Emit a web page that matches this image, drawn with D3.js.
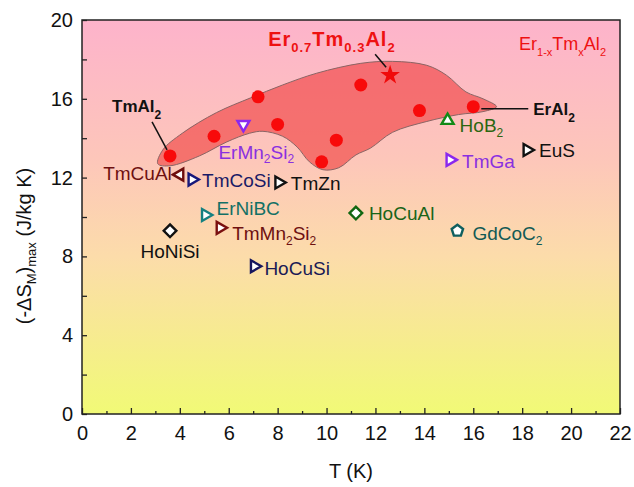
<!DOCTYPE html>
<html>
<head>
<meta charset="utf-8">
<script src="https://cdn.jsdelivr.net/npm/d3@7"></script>
<style>
  body { margin: 0; background: #fff; }
  svg text { font-family: Arial, "Liberation Sans", sans-serif; }
</style>
</head>
<body>
<svg width="634" height="487"></svg>
<script>
// Er(1-x)Tm(x)Al2 series (red dots)
var erTmT = [3.6, 5.4, 7.2, 8.0, 9.8, 10.4, 11.4, 13.8, 16.0];
var erTmS = [13.1, 14.1, 16.1, 14.7, 12.8, 13.9, 16.7, 15.4, 15.6];
// Er0.7Tm0.3Al2 (star)
var starT = [12.6];
var starS = [17.2];

// other compounds
var compounds = ["TmCuAl", "TmCoSi", "TmZn", "ErMn2Si2", "ErNiBC", "TmMn2Si2", "HoNiSi",
  "HoCuSi", "HoCuAl", "GdCoC2", "HoB2", "TmGa", "EuS"];
var compT = [4.0, 4.5, 8.05, 6.6, 5.05, 5.65, 3.6, 7.05, 11.2, 15.35, 14.95, 15.05, 18.2];
var compS = [12.15, 11.9, 11.75, 14.7, 10.1, 9.45, 9.3, 7.5, 10.2, 9.3, 14.9, 12.9, 13.4];

// outline of the shaded Er1-xTmxAl2 region (T, S)
var blobT = [3.1, 3.3, 4.1, 5.5, 6.9, 8.2, 9.6, 11.4, 12.7, 14.1, 14.9, 15.7, 16.4, 16.95,
  16.4, 15.4, 14.1, 12.7, 11.8, 11.2, 10.5, 9.85, 9.3, 8.8, 8.2, 7.4, 6.85, 5.9, 4.8, 3.6];
var blobS = [12.7, 13.4, 14.25, 15.3, 16.05, 16.7, 17.3, 17.8, 17.9, 17.7, 17.2, 16.35, 16.0, 15.6,
  15.35, 15.2, 14.85, 14.3, 13.5, 13.15, 12.5, 12.4, 12.8, 13.55, 14.1, 14.35, 14.25, 13.8, 13.1, 12.6];

var xTicks = [0, 2, 4, 6, 8, 10, 12, 14, 16, 18, 20, 22];
var yTicks = [0, 4, 8, 12, 16, 20];

var svg = d3.select("svg"),
  margin = {top: 20, right: 14, bottom: 73, left: 82},
  width = 634 - margin.left - margin.right,
  height = 487 - margin.top - margin.bottom;

var g = svg.append("g").attr("transform", "translate(" + margin.left + "," + margin.top + ")");

var x = d3.scaleLinear().domain([0, 22]).range([0, width]);
var y = d3.scaleLinear().domain([0, 20]).range([height, 0]);

// background gradient
var grad = svg.append("defs").append("linearGradient")
  .attr("id", "bg").attr("x1", 0).attr("y1", 0).attr("x2", 0).attr("y2", 1);
grad.append("stop").attr("offset", "0%").attr("stop-color", "#fdb3cb");
grad.append("stop").attr("offset", "35%").attr("stop-color", "#fdc6ba");
grad.append("stop").attr("offset", "60%").attr("stop-color", "#fcdcaa");
grad.append("stop").attr("offset", "100%").attr("stop-color", "#f1fa76");

g.append("rect").attr("width", width).attr("height", height).attr("fill", "url(#bg)");

// shaded region
var blob = blobT.map(function(t, i) { return [x(t), y(blobS[i])]; });
g.append("path")
  .attr("d", d3.line().curve(d3.curveCatmullRomClosed.alpha(0.5))(blob))
  .attr("fill", "#ef2e2e")
  .attr("fill-opacity", 0.55)
  .attr("stroke", "#8a6464")
  .attr("stroke-width", 1);

// axes
function styleAxis(sel) {
  sel.select(".domain").remove();
  sel.selectAll("line").attr("stroke", "#222").attr("stroke-width", 1.3);
  sel.selectAll("text").attr("font-size", 20).attr("fill", "#111");
}
g.append("g").attr("transform", "translate(0," + height + ")")
  .call(d3.axisBottom(x).tickValues(xTicks).tickSize(-6).tickPadding(12).tickFormat(d3.format("d")))
  .call(styleAxis);
g.append("g").attr("transform", "translate(0," + height + ")")
  .call(d3.axisBottom(x).tickValues(d3.range(1, 22, 2)).tickSize(-3).tickFormat(""))
  .call(styleAxis);
g.append("g")
  .call(d3.axisLeft(y).tickValues(yTicks).tickSize(-5).tickPadding(9).tickFormat(d3.format("d")))
  .call(styleAxis);
g.append("g")
  .call(d3.axisLeft(y).tickValues([2, 6, 10, 14, 18]).tickSize(-5).tickFormat(""))
  .call(styleAxis);

g.append("rect").attr("width", width).attr("height", height)
  .attr("fill", "none").attr("stroke", "#222").attr("stroke-width", 1.5);

// axis titles
svg.append("text")
  .attr("x", margin.left + width / 2).attr("y", 478)
  .attr("text-anchor", "middle").attr("font-size", 20).attr("fill", "#111")
  .text("T (K)");

var yl = svg.append("text")
  .attr("transform", "translate(31," + (margin.top + 226) + ") rotate(-90)")
  .attr("text-anchor", "middle").attr("font-size", 20).attr("fill", "#111");
yl.append("tspan").text("(-ΔS");
yl.append("tspan").attr("font-size", 13).attr("dy", 5).text("M");
yl.append("tspan").attr("dy", -5).text(")");
yl.append("tspan").attr("font-size", 13).attr("dy", 5).text("max");
yl.append("tspan").attr("dy", -5).text(" (J/kg K)");

// marker styles and label placement
var pentagon = {
  draw: function(ctx, size) {
    var r = Math.sqrt(size / 2.378);
    for (var i = 0; i < 5; i++) {
      var a = -Math.PI / 2 + i * 2 * Math.PI / 5;
      if (i === 0) ctx.moveTo(r * Math.cos(a), r * Math.sin(a));
      else ctx.lineTo(r * Math.cos(a), r * Math.sin(a));
    }
    ctx.closePath();
  }
};
var tri = d3.symbolTriangle, dia = d3.symbolSquare;
var style = {
  TmCuAl:   {sym: tri, rot: -90, color: "#6e0d0d", text: "#6e1010", dx: -8,  dy: 5,   anchor: "end"},
  TmCoSi:   {sym: tri, rot: 90,  color: "#18187a", text: "#1a1a66", dx: 10,  dy: 7},
  TmZn:     {sym: tri, rot: 90,  color: "#111",    text: "#111",    dx: 12,  dy: 7},
  ErMn2Si2: {sym: tri, rot: 180, color: "#8a28ee", text: "#8a30e0", dx: -25, dy: 35, sub: ["ErMn", "2", "Si", "2"], shift: 4},
  ErNiBC:   {sym: tri, rot: 90,  color: "#148080", text: "#137065", dx: 11,  dy: 0},
  TmMn2Si2: {sym: tri, rot: 90,  color: "#7a1010", text: "#6e1010", dx: 12,  dy: 12, sub: ["TmMn", "2", "Si", "2"]},
  HoNiSi:   {sym: dia, rot: 45,  color: "#111",    text: "#111",    dx: 0,   dy: 27, anchor: "middle"},
  HoCuSi:   {sym: tri, rot: 90,  color: "#16165e", text: "#1a1a55", dx: 10,  dy: 9},
  HoCuAl:   {sym: dia, rot: 45,  color: "#116611", text: "#1a6418", dx: 13,  dy: 7},
  GdCoC2:   {sym: pentagon, rot: 0, color: "#0f5f5f", text: "#125a55", dx: 15, dy: 9, sub: ["GdCoC", "2"]},
  HoB2:     {sym: tri, rot: 0,   color: "#128a18", text: "#2c6610", dx: 12,  dy: 12, sub: ["HoB", "2"]},
  TmGa:     {sym: tri, rot: 90,  color: "#8a28ee", text: "#8a30e0", dx: 12,  dy: 8},
  EuS:      {sym: tri, rot: 90,  color: "#111",    text: "#111",    dx: 12,  dy: 7}
};

function addLabel(sel, parts, big, small, shift) {
  parts.forEach(function(p, i) {
    var isSub = i % 2 === 1;
    sel.append("tspan")
      .attr("font-size", isSub ? small : big)
      .attr("dy", isSub ? shift : (i > 0 ? -shift : 0))
      .text(p);
  });
}

compounds.forEach(function(name, i) {
  var s = style[name];
  var px = x(compT[i]), py = y(compS[i]);
  var size = s.sym === dia ? 80 : (s.sym === pentagon ? 85 : 62);
  g.append("path")
    .attr("d", d3.symbol().type(s.sym).size(size)())
    .attr("transform", "translate(" + px + "," + py + ") rotate(" + s.rot + ")")
    .attr("fill", "#fff")
    .attr("stroke", s.color)
    .attr("stroke-width", 2.4)
    .attr("stroke-linejoin", "miter");
  var t = g.append("text")
    .attr("x", px + s.dx).attr("y", py + s.dy)
    .attr("text-anchor", s.anchor || "start")
    .attr("fill", s.text);
  if (s.sub) addLabel(t, s.sub, 19, 12, s.shift || 5);
  else t.attr("font-size", 19).text(name);
});

// red dots
g.selectAll("circle.er")
  .data(erTmT)
  .enter().append("circle")
  .attr("class", "er")
  .attr("cx", function(d) { return x(d); })
  .attr("cy", function(d, i) { return y(erTmS[i]); })
  .attr("r", 6.5)
  .attr("fill", "#f80a0a");

g.selectAll("path.star")
  .data(starT)
  .enter().append("path")
  .attr("class", "star")
  .attr("d", d3.symbol().type(d3.symbolStar).size(120)())
  .attr("transform", function(d, i) { return "translate(" + x(d) + "," + y(starS[i]) + ")"; })
  .attr("fill", "#f00a0a");

// annotations
var a1x = x(erTmT[0]), a1y = y(erTmS[0]);
g.append("line").attr("x1", a1x - 18).attr("y1", a1y - 34).attr("x2", a1x - 3).attr("y2", a1y - 6)
  .attr("stroke", "#111").attr("stroke-width", 1.5);
var t1 = g.append("text").attr("x", a1x - 58).attr("y", a1y - 44)
  .attr("font-weight", "bold").attr("fill", "#111");
addLabel(t1, ["TmAl", "2"], 17, 12, 7);

var a2x = x(starT[0]), a2y = y(starS[0]);
g.append("line").attr("x1", a2x - 15).attr("y1", a2y - 21).attr("x2", a2x - 4).attr("y2", a2y - 8)
  .attr("stroke", "#111").attr("stroke-width", 1.5);
var t2 = g.append("text").attr("x", a2x - 122).attr("y", a2y - 29)
  .attr("font-weight", "bold").attr("fill", "#ee1111").attr("letter-spacing", 1);
addLabel(t2, ["Er", "0.7", "Tm", "0.3", "Al", "2"], 20, 13, 6);

var a3x = x(erTmT[8]), a3y = y(erTmS[8]);
g.append("line").attr("x1", a3x + 8).attr("y1", a3y + 2).attr("x2", a3x + 55).attr("y2", a3y + 2)
  .attr("stroke", "#111").attr("stroke-width", 1.5);
var t3 = g.append("text").attr("x", a3x + 60).attr("y", a3y + 8)
  .attr("font-weight", "bold").attr("fill", "#111");
addLabel(t3, ["ErAl", "2"], 17, 12, 7);

var t4 = g.append("text").attr("x", width - 14).attr("y", 30)
  .attr("text-anchor", "end").attr("fill", "#ee1111");
addLabel(t4, ["Er", "1-x", "Tm", "x", "Al", "2"], 18, 11, 6);
</script>
</body>
</html>
